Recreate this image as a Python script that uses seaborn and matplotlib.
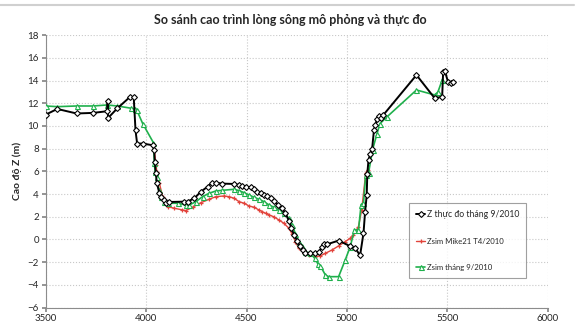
import matplotlib
matplotlib.use("Agg")
import matplotlib.pyplot as plt
import seaborn as sns
import pandas as pd
from matplotlib.lines import Line2D

# ---- data ----
obs_x = [3500, 3557, 3653, 3735, 3806, 3808, 3810, 3856, 3919, 3938, 3947, 3955, 3983,
         4033, 4040, 4043, 4048, 4053, 4066, 4074, 4087, 4099, 4116, 4190, 4206, 4240,
         4273, 4306, 4327, 4347, 4380, 4438, 4463, 4479, 4496, 4521, 4537, 4554, 4570,
         4587, 4603, 4620, 4636, 4658, 4677, 4694, 4711, 4724, 4738, 4752, 4766, 4780,
         4794, 4818, 4843, 4860, 4876, 4884, 4901, 4959, 5017, 5042, 5066, 5083, 5091,
         5099, 5102, 5108, 5116, 5126, 5135, 5142, 5150, 5160, 5170, 5182, 5347, 5438,
         5475, 5480, 5488, 5504, 5521, 5531]
obs_z = [11.0, 11.5, 11.1, 11.15, 11.3, 12.2, 10.7, 11.55, 12.55, 12.55, 9.6, 8.45, 8.45,
         8.3, 7.9, 6.8, 5.85, 5.0, 4.07, 3.77, 3.48, 3.24, 3.3, 3.33, 3.33, 3.63,
         4.21, 4.65, 4.95, 5.0, 4.92, 4.89, 4.8, 4.71, 4.65, 4.6, 4.42, 4.21, 4.07,
         3.92, 3.83, 3.63, 3.39, 3.04, 2.75, 2.31, 1.65, 0.99, 0.35, -0.1, -0.6, -0.9,
         -1.16, -1.22, -1.16, -1.07, -0.69, -0.43, -0.43, -0.1, -0.6, -0.78, -1.4, 0.55, 2.45,
         3.9, 5.8, 7.0, 7.5, 8.0, 9.6, 10.1, 10.6, 10.9, 10.7, 10.97, 14.49, 12.44,
         12.58, 14.78, 14.87, 13.9, 13.76, 13.85]

m21_x = [4040, 4049, 4053, 4066, 4082, 4107, 4140, 4181, 4198, 4231, 4273, 4314, 4347,
         4388, 4413, 4438, 4463, 4488, 4512, 4537, 4562, 4578, 4595, 4612, 4636, 4661,
         4686, 4711, 4727, 4744, 4760, 4785, 4810, 4843, 4868, 4893, 4926, 4959, 4992,
         5017, 5033, 5058, 5074, 5094, 5104]
m21_z = [8.0, 6.56, 5.97, 4.95, 3.77, 2.89, 2.75, 2.6, 2.54, 2.84, 3.24, 3.54, 3.77,
         3.83, 3.77, 3.63, 3.33, 3.19, 2.95, 2.84, 2.6, 2.45, 2.31, 2.16, 2.0, 1.72,
         1.43, 0.99, 0.5, -0.19, -0.78, -1.16, -1.37, -1.51, -1.45, -1.22, -0.93, -0.57, -0.19,
         0.1, 0.4, 1.13, 2.6, 5.83, 6.12]

sep_x = [3500, 3557, 3653, 3735, 3806, 3856, 3926, 3942, 3953, 3983, 4036, 4041, 4045,
         4053, 4063, 4074, 4091, 4107, 4157, 4198, 4215, 4248, 4281, 4314, 4347, 4380,
         4438, 4463, 4488, 4512, 4537, 4562, 4587, 4612, 4636, 4661, 4686, 4711, 4727,
         4744, 4760, 4777, 4794, 4818, 4840, 4856, 4868, 4893, 4909, 4959, 4992, 5017,
         5038, 5058, 5071, 5083, 5094, 5108, 5128, 5150, 5165, 5198, 5347, 5438, 5454, 5475]
sep_z = [11.76, 11.7, 11.76, 11.76, 11.85, 11.76, 11.56, 11.47, 11.41, 10.2, 8.53, 6.7, 5.97,
         5.53, 4.36, 3.77, 3.33, 3.19, 3.19, 3.04, 3.04, 3.33, 3.77, 4.07, 4.27, 4.33,
         4.42, 4.3, 4.12, 3.92, 3.72, 3.54, 3.33, 3.04, 2.84, 2.6, 2.31, 1.87, 1.28,
         0.5, -0.2, -0.6, -1.07, -1.22, -1.66, -2.16, -2.33, -3.13, -3.28, -3.28, -1.81, -0.63,
         0.84, 0.84, 3.04, 3.19, 5.68, 5.83, 7.9, 9.3, 10.2, 10.77, 13.17, 12.73, 13.0, 14.05]

labels = ["Z thực đo tháng 9/2010", "Zsim Mike21 T4/2010", "Zsim tháng 9/2010"]
title = "So sánh cao trình lòng sông mô phỏng và thực đo"
ylabel = "Cao độ Z (m)"
xticks = [3500, 4000, 4500, 5000, 5500, 6000]
yticks = [-6, -4, -2, 0, 2, 4, 6, 8, 10, 12, 14, 16, 18]

sns.set_theme(style="white")
plt.rcParams['font.family'] = ['Lato', 'Noto Sans', 'DejaVu Sans']

fig = plt.figure(figsize=(5.8, 3.35), dpi=100)
ax = fig.add_axes([0.079, 0.082, 0.865, 0.813])

df_obs = pd.DataFrame({"x": obs_x, "z": obs_z})
df_m21 = pd.DataFrame({"x": m21_x, "z": m21_z})
df_sep = pd.DataFrame({"x": sep_x, "z": sep_z})

red = "#e2443c"
green = "#1fb04c"

sns.lineplot(data=df_m21, x="x", y="z", sort=False, estimator=None, ax=ax,
             color=red, lw=1.0, marker="+", markersize=3.0, markeredgewidth=0.9,
             markeredgecolor=red, label=labels[1], zorder=3)
sns.lineplot(data=df_sep, x="x", y="z", sort=False, estimator=None, ax=ax,
             color=green, lw=1.2, marker="^", markersize=3.6, markeredgewidth=0.8,
             markerfacecolor="white", markeredgecolor=green, label=labels[2], zorder=4)
sns.lineplot(data=df_obs, x="x", y="z", sort=False, estimator=None, ax=ax,
             color="black", lw=1.4, marker="D", markersize=3.0, markeredgewidth=0.8,
             markerfacecolor="white", markeredgecolor="black", label=labels[0], zorder=5)

ax.set_xlim(3500, 6000)
ax.set_ylim(-6, 18)
ax.set_xticks(xticks)
ax.set_yticks(yticks)
ax.tick_params(axis="both", labelsize=7, length=3, color="#888888", pad=2,
               direction="out", left=True, bottom=True)
ax.grid(True, color="#c8c8c8", linestyle=":", linewidth=0.8)
for s in ["top", "right"]:
    ax.spines[s].set_visible(False)
for s in ["left", "bottom"]:
    ax.spines[s].set_color("#8c8c8c")
    ax.spines[s].set_linewidth(0.8)

ax.set_xlabel("")
ax.set_ylabel(ylabel, fontsize=7.5, fontweight="bold", labelpad=4)
fig.text(0.5, 0.94, title, ha="center", va="center", fontsize=9, fontweight="bold")

h, l = ax.get_legend_handles_labels()
order = [l.index(t) for t in labels]
leg = ax.legend([h[i] for i in order], [l[i] for i in order],
                loc="upper left", bbox_to_anchor=(0.724, 0.383), frameon=True,
                fontsize=5.6, handlelength=1.2, handletextpad=0.2,
                labelspacing=2.4, borderpad=0.9, borderaxespad=0, fancybox=False)
leg.get_frame().set_edgecolor("#888888")
leg.get_frame().set_linewidth(0.8)
leg.get_texts()[0].set_fontsize(6.2)

fig.add_artist(Line2D([0.0, 0.99], [0.985, 0.985], color="#d0d0d0", lw=1.5,
                      transform=fig.transFigure))

fig.savefig("out.png", dpi=100)
